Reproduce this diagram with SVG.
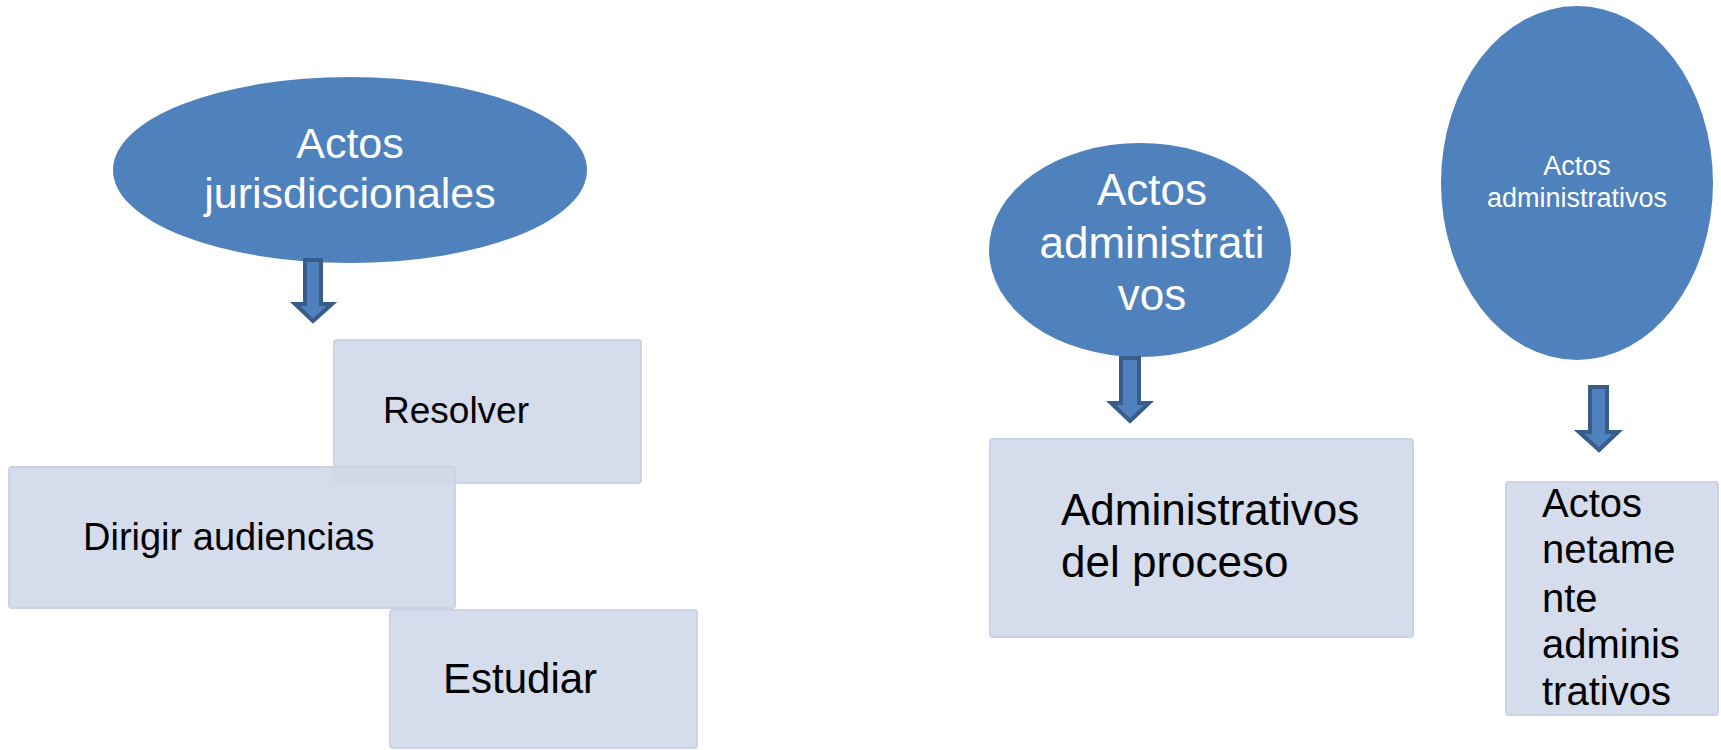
<svg xmlns="http://www.w3.org/2000/svg" width="1721" height="750" viewBox="0 0 1721 750">
<style>
.oval{fill:#4f81bd;}
.box{fill:#d0d8e9;fill-opacity:0.9;stroke:#cbd3e4;stroke-width:2;}
.wt{fill:#ffffff;font-family:"Liberation Sans",Arial,sans-serif;text-anchor:middle;}
.bt{fill:#000000;font-family:"Liberation Sans",Arial,sans-serif;}
.arr{fill:#4f81bd;stroke:#385d8a;stroke-width:4;stroke-linejoin:miter;}
</style>
<rect width="1721" height="750" fill="#ffffff"/>
<g id="n-jurisdiccionales">
<ellipse class="oval" cx="350" cy="170" rx="237" ry="93"/>
<text class="wt" x="350" y="158" font-size="43">Actos</text>
<text class="wt" x="350" y="208" font-size="43">jurisdiccionales</text>
</g>
<g id="n-resolver">
<rect class="box" x="334" y="340" width="307" height="143" rx="3"/>
<text class="bt" x="383" y="423" font-size="37">Resolver</text>
</g>
<g id="n-dirigir">
<rect class="box" x="9" y="467" width="446" height="141" rx="3"/>
<text class="bt" x="83" y="550" font-size="38">Dirigir audiencias</text>
</g>
<g id="n-estudiar">
<rect class="box" x="390" y="610" width="307" height="138" rx="3"/>
<text class="bt" x="443" y="693" font-size="42">Estudiar</text>
</g>
<g id="n-administrativos1">
<ellipse class="oval" cx="1140" cy="250" rx="151" ry="107"/>
<text class="wt" x="1152" y="205" font-size="44">Actos</text>
<text class="wt" x="1152" y="258" font-size="44">administrati</text>
<text class="wt" x="1152" y="310" font-size="44">vos</text>
</g>
<g id="n-proceso">
<rect class="box" x="990" y="439" width="423" height="198" rx="3"/>
<text class="bt" x="1061" y="525" font-size="44">Administrativos</text>
<text class="bt" x="1061" y="577" font-size="44">del proceso</text>
</g>
<g id="n-administrativos2">
<ellipse class="oval" cx="1577" cy="183" rx="136" ry="177"/>
<text class="wt" x="1577" y="175" font-size="27">Actos</text>
<text class="wt" x="1577" y="207" font-size="27">administrativos</text>
</g>
<g id="n-netamente">
<rect class="box" x="1506" y="482" width="212" height="233" rx="3"/>
<text class="bt" x="1542" y="517" font-size="40">Actos</text>
<text class="bt" x="1542" y="563" font-size="40">netame</text>
<text class="bt" x="1542" y="612" font-size="40">nte</text>
<text class="bt" x="1542" y="658" font-size="40">adminis</text>
<text class="bt" x="1542" y="705" font-size="40">trativos</text>
</g>
<g id="connectors">
<path class="arr" d="M305,260 H321 V304 H332 L313,321 L295,304 H305 Z"/>
<path class="arr" d="M1121,358 H1139 V403 H1149 L1130,421 L1111,403 H1121 Z"/>
<path class="arr" d="M1590,387 H1607 V432 H1618 L1599,450 L1579,432 H1590 Z"/>
</g>
</svg>
